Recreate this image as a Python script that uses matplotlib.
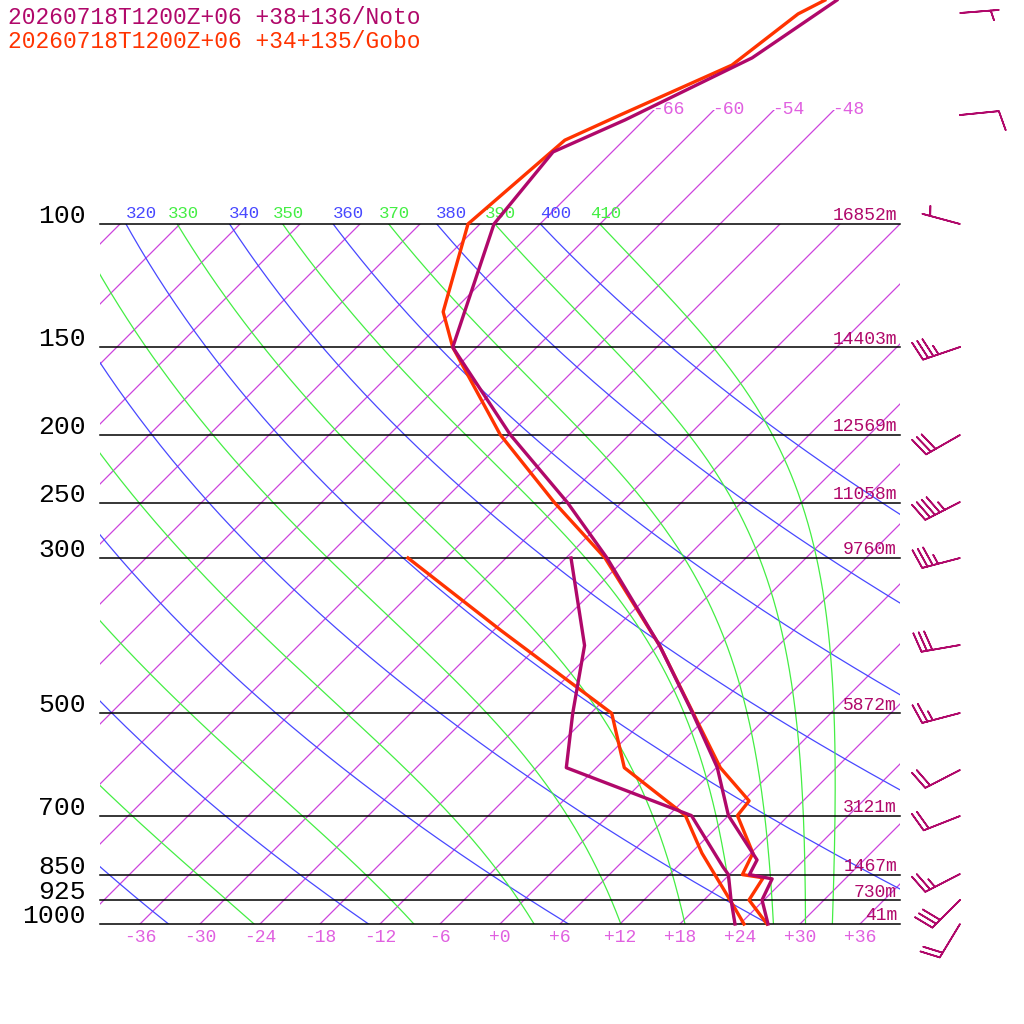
import numpy as np
import matplotlib
matplotlib.use("Agg")
import matplotlib.pyplot as plt
from matplotlib.patches import Rectangle

# ---- sounding data (hPa, degC) ----
noto_p = [47.9, 57.9, 71.0, 78.9, 100, 150, 200, 250, 300, 400, 500, 598, 700, 810, 850, 862, 924, 1000]
noto_t = [-58.7, -61.4, -67.9, -71.9, -70.6, -62.4, -47.9, -35.4, -25.9, -11.9, -1.8, 6.1, 12.0, 19.3, 20.0, 22.7, 23.8, 26.8]
noto_td_p = [300, 400, 500, 598, 700, 829, 850, 924, 1000]
noto_td = [-29.5, -19.4, -13.8, -9.0, 8.3, 16.6, 17.9, 20.7, 23.5]

gobo_p = [47.9, 50.1, 59.3, 69.9, 75.9, 100, 133.5, 150, 200, 250, 300, 400, 598, 667, 700, 792, 850, 859, 924, 1000]
gobo_t = [-59.9, -61.2, -62.7, -68.9, -71.9, -73.2, -66.9, -62.4, -48.9, -36.7, -26.1, -11.9, 6.4, 12.6, 12.9, 18.2, 19.3, 21.7, 22.5, 26.7]
gobo_td_p = [300, 380, 500, 598, 700, 792, 924, 1000]
gobo_td = [-45.8, -29.4, -9.9, -3.2, 7.7, 13.1, 20.6, 24.4]

levels = [100, 150, 200, 250, 300, 500, 700, 850, 925, 1000]
heights = ["16852m", "14403m", "12569m", "11058m", "9760m", "5872m", "3121m", "1467m", "730m", "41m"]

# wind barbs: pixel row of station, staff direction (dx, dy), speed kt
barb_rows = [13, 115, 224, 347, 435, 502, 558, 645, 713, 770, 816, 874, 900, 924]
barb_dx = [38, 40, -37, -38, -35, -35, -38, -40, -38, -35, -38, -35, -28, -20]
barb_dy = [-3, -4, -10, 13, 20, 18, 10, 7, 10, 18, 15, 18, 28, 33]
barb_kt = [5, 10, 5, 35, 30, 45, 35, 30, 25, 20, 20, 25, 30, 20]

dry_thetas = np.arange(200, 401, 20)
moist_thetaes = np.arange(230, 411, 20)
isotherms = np.arange(-150, 43, 6)
top_isotherms = [-66, -60, -54, -48]
bottom_ticks = np.arange(-36, 37, 6)

NOTO = "#b0086a"
GOBO = "#ff3300"
ISO = "#cc44dd"
PINK = "#e060e0"
BLUE = "#4848ff"
GREEN = "#44ee44"
MONO = "Liberation Mono"


def py(p):
    return 924 - 700 * np.log10(1000.0 / np.asarray(p, dtype=float))


def px(t, p):
    return 500 + 10 * np.asarray(t, dtype=float) + (924 - py(p))


def es(tc):
    return 6.112 * np.exp(17.67 * tc / (tc + 243.5))


def rs(tk, p):
    e = es(tk - 273.15)
    return 0.622 * e / (p - e)


def thetae_sat(tk, p):
    r = rs(tk, p)
    return tk * (1000.0 / p) ** 0.2857 * np.exp((3376.0 / tk - 2.54) * r * (1 + 0.81 * r))


def moist_line(te):
    lo, hi = 200.0, 320.0
    for _ in range(60):
        mid = 0.5 * (lo + hi)
        if thetae_sat(mid, 1000.0) > te:
            hi = mid
        else:
            lo = mid
    tk = 0.5 * (lo + hi)
    lnp = np.linspace(np.log(1000), np.log(100), 400)
    ts = [tk]
    Rd, cp, Lv, eps = 287.0, 1005.0, 2.5e6, 0.622

    def f(t, lp):
        p = np.exp(lp)
        r = rs(t, p)
        return (Rd * t + Lv * r) / (cp + Lv * Lv * r * eps / (Rd * t * t))

    for i in range(len(lnp) - 1):
        h = lnp[i + 1] - lnp[i]
        t = ts[-1]
        k1 = f(t, lnp[i])
        k2 = f(t + 0.5 * h * k1, lnp[i] + 0.5 * h)
        k3 = f(t + 0.5 * h * k2, lnp[i] + 0.5 * h)
        k4 = f(t + h * k3, lnp[i + 1])
        ts.append(t + h * (k1 + 2 * k2 + 2 * k3 + k4) / 6)
    return np.exp(lnp), np.array(ts) - 273.15


fig = plt.figure(figsize=(10.24, 10.24), dpi=100)
ax = fig.add_axes([0, 0, 1, 1])
ax.set_xlim(0, 1024)
ax.set_ylim(1024, 0)
ax.axis("off")

box = Rectangle((100, 224), 800, 700, transform=ax.transData, fill=False, lw=0)
ax.add_patch(box)
upper = Rectangle((100, 110), 800, 814, transform=ax.transData, fill=False, lw=0)
ax.add_patch(upper)

# isotherms
pp = np.logspace(np.log10(1000), np.log10(68), 200)
for t in isotherms:
    ln, = ax.plot(px(t, pp), py(pp), color=ISO, lw=0.9)
    ln.set_clip_path(upper if t in top_isotherms else box)
for t in top_isotherms:
    y = 110
    x = 500 + 10 * t + (924 - y)
    ax.text(x - 2, y, f"{t}", color=PINK, fontsize=13, family=MONO, ha="left", va="center")

# dry adiabats
pd_ = np.logspace(np.log10(1000), np.log10(100), 200)
for th in dry_thetas:
    t = th * (pd_ / 1000.0) ** 0.2857 - 273.15
    ln, = ax.plot(px(t, pd_), py(pd_), color=BLUE, lw=0.9)
    ln.set_clip_path(box)
    xt = px(t[-1], 100)
    if 100 < xt + 15 < 900:
        ax.text(xt + 15, 213, f"{th}", color=BLUE, fontsize=12.5, family=MONO, ha="center", va="center")

# moist adiabats
for te in moist_thetaes:
    pm, tm = moist_line(te)
    ln, = ax.plot(px(tm, pm), py(pm), color=GREEN, lw=0.9)
    ln.set_clip_path(box)
    xt = px(tm[-1], 100)
    if 100 < xt + 6 < 900:
        ax.text(xt + 6, 213, f"{te}", color=GREEN, fontsize=12.5, family=MONO, ha="center", va="center")

# pressure levels
for p, hgt in zip(levels, heights):
    y = py(p)
    ax.plot([100, 900], [y, y], color="black", lw=1.1)
    ax.text(86, y - 8, f"{p}", fontsize=19, family=MONO, ha="right", va="center")
    ax.text(897, y - 8, hgt, color=NOTO, fontsize=13, family=MONO, ha="right", va="center")

for t in bottom_ticks:
    lab = f"+{t}" if t >= 0 else f"{t}"
    ax.text(px(t, 1000), 937, lab, color=PINK, fontsize=13, family=MONO, ha="center", va="center")

# soundings
ax.plot(px(gobo_t, gobo_p), py(gobo_p), color=GOBO, lw=2.4, zorder=5)
ax.plot(px(noto_t, noto_p), py(noto_p), color=NOTO, lw=2.4, zorder=6)
ax.plot(px(gobo_td, gobo_td_p), py(gobo_td_p), color=GOBO, lw=2.4, zorder=5)
ax.plot(px(noto_td, noto_td_p), py(noto_td_p), color=NOTO, lw=2.4, zorder=6)

# wind barbs
dx = np.array(barb_dx, float)
dy = np.array(barb_dy, float)
n = np.hypot(dx, dy)
kt = np.array(barb_kt, float)
u = -dx / n * kt
v = dy / n * kt
ax.barbs(np.full(len(barb_rows), 960), barb_rows, u, v, color=NOTO, length=7.5,
         linewidth=1.2, sizes=dict(spacing=0.14, height=0.5), flip_barb=False)

ax.text(8, 18, "20260718T1200Z+06 +38+136/Noto", color=NOTO, fontsize=16.5, family=MONO, va="center")
ax.text(8, 41, "20260718T1200Z+06 +34+135/Gobo", color=GOBO, fontsize=16.5, family=MONO, va="center")

fig.savefig("out.png", dpi=100)
